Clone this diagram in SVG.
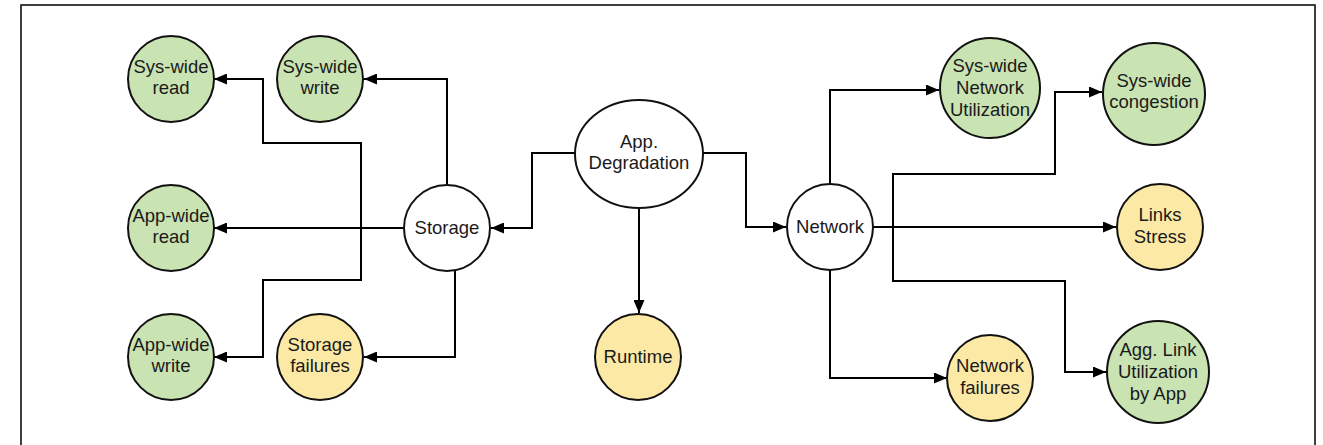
<svg xmlns="http://www.w3.org/2000/svg" width="1323" height="445" viewBox="0 0 1323 445">
<style>
  .bg { fill: #ffffff; }
  .frame { fill: none; stroke: #000; stroke-width: 1.5; }
  .n { stroke: #111; stroke-width: 2; }
  .green { fill: #cae3b2; }
  .yellow { fill: #fde9a6; }
  .white { fill: #ffffff; }
  .t { font-family: "Liberation Sans", Arial, sans-serif; font-size: 18.5px; fill: #1a1a1a; text-anchor: middle; }
  .c { fill: none; stroke: #000; stroke-width: 2; marker-end: url(#arr); }
</style>
<defs>
  <marker id="arr" markerUnits="userSpaceOnUse" markerWidth="14" markerHeight="11" refX="13" refY="5.5" orient="auto">
    <path d="M0,0 L13,5.5 L0,11 z" fill="#000"/>
  </marker>
</defs>
<rect class="bg" x="0" y="0" width="1323" height="445"/>
<rect class="frame" x="21" y="5" width="1294" height="460"/>

<g id="connectors">
  <path class="c" d="M447,184 V79 H364"/>
  <path class="c" d="M403,228 H214"/>
  <path class="c" d="M361,228 V143 H263 V79 H214"/>
  <path class="c" d="M361,228 V280 H263 V357 H214"/>
  <path class="c" d="M455,271 V357 H364"/>
  <path class="c" d="M575,153 H532 V228 H491"/>
  <path class="c" d="M639,208 V313"/>
  <path class="c" d="M703,153 H746 V227 H786"/>
  <path class="c" d="M830,184 V90 H939"/>
  <path class="c" d="M873,227 H1116"/>
  <path class="c" d="M893,227 V174 H1055 V92 H1102"/>
  <path class="c" d="M893,227 V281 H1065 V372 H1106"/>
  <path class="c" d="M830,270 V378 H947"/>
</g>

<g id="sys-wide-read">
  <circle class="n green" cx="171" cy="79" r="43"/>
  <text class="t" x="171" y="73">Sys-wide</text>
  <text class="t" x="171" y="94">read</text>
</g>
<g id="sys-wide-write">
  <circle class="n green" cx="320" cy="79" r="43"/>
  <text class="t" x="320" y="73">Sys-wide</text>
  <text class="t" x="320" y="94">write</text>
</g>
<g id="app-wide-read">
  <circle class="n green" cx="171" cy="228" r="43"/>
  <text class="t" x="171" y="222">App-wide</text>
  <text class="t" x="171" y="243">read</text>
</g>
<g id="app-wide-write">
  <circle class="n green" cx="171" cy="357" r="43"/>
  <text class="t" x="171" y="351">App-wide</text>
  <text class="t" x="171" y="372">write</text>
</g>
<g id="storage-failures">
  <circle class="n yellow" cx="320" cy="357" r="43"/>
  <text class="t" x="320" y="351">Storage</text>
  <text class="t" x="320" y="372">failures</text>
</g>
<g id="storage">
  <circle class="n white" cx="447" cy="228" r="43"/>
  <text class="t" x="447" y="234">Storage</text>
</g>
<g id="app-degradation">
  <ellipse class="n white" cx="639" cy="154" rx="64" ry="54"/>
  <text class="t" x="639" y="148">App.</text>
  <text class="t" x="639" y="169">Degradation</text>
</g>
<g id="runtime">
  <circle class="n yellow" cx="638" cy="357" r="43"/>
  <text class="t" x="638" y="363">Runtime</text>
</g>
<g id="network">
  <circle class="n white" cx="830" cy="227" r="43"/>
  <text class="t" x="830" y="233">Network</text>
</g>
<g id="sys-wide-network-utilization">
  <circle class="n green" cx="990" cy="88" r="50"/>
  <text class="t" x="990" y="72">Sys-wide</text>
  <text class="t" x="990" y="94">Network</text>
  <text class="t" x="990" y="116">Utilization</text>
</g>
<g id="sys-wide-congestion">
  <circle class="n green" cx="1154" cy="94" r="51"/>
  <text class="t" x="1154" y="87">Sys-wide</text>
  <text class="t" x="1154" y="108">congestion</text>
</g>
<g id="links-stress">
  <circle class="n yellow" cx="1160" cy="227" r="43"/>
  <text class="t" x="1160" y="221">Links</text>
  <text class="t" x="1160" y="243">Stress</text>
</g>
<g id="agg-link-utilization">
  <circle class="n green" cx="1158" cy="372" r="51"/>
  <text class="t" x="1158" y="356">Agg. Link</text>
  <text class="t" x="1158" y="378">Utilization</text>
  <text class="t" x="1158" y="400">by App</text>
</g>
<g id="network-failures">
  <circle class="n yellow" cx="990" cy="378" r="43"/>
  <text class="t" x="990" y="372">Network</text>
  <text class="t" x="990" y="394">failures</text>
</g>
</svg>
